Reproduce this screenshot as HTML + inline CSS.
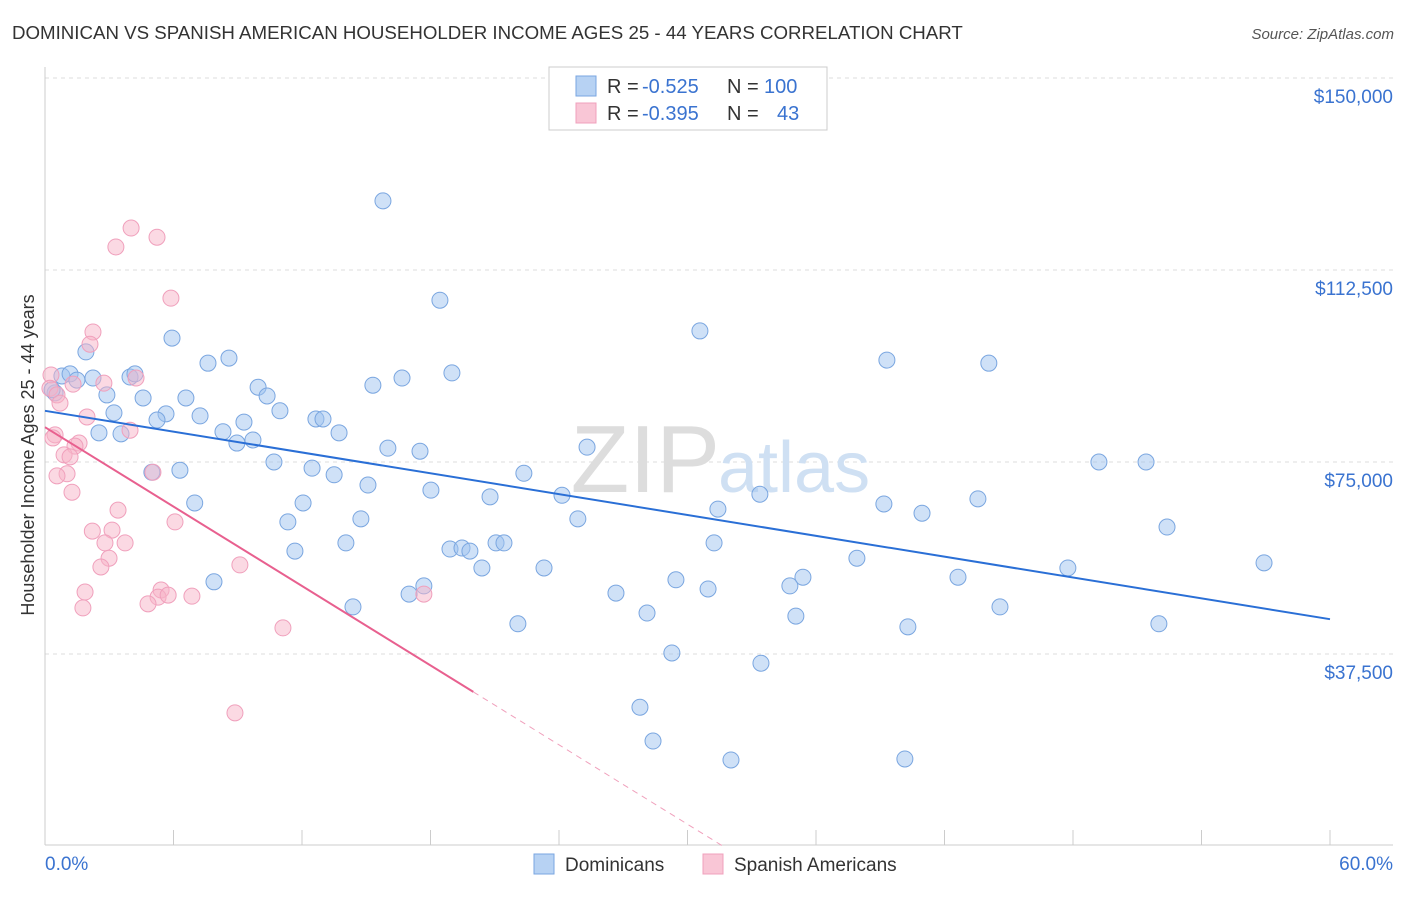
<!DOCTYPE html>
<html><head><meta charset="utf-8"><style>
body{margin:0;background:#fff;font-family:"Liberation Sans",sans-serif}
svg text{font-family:"Liberation Sans",sans-serif}
</style></head><body>
<svg id="c" width="1406" height="892" xmlns="http://www.w3.org/2000/svg">
<text x="12" y="39" font-size="18.7" fill="#333">DOMINICAN VS SPANISH AMERICAN HOUSEHOLDER INCOME AGES 25 - 44 YEARS CORRELATION CHART</text>
<text x="1394" y="39" font-size="15" fill="#555" font-style="italic" text-anchor="end">Source: ZipAtlas.com</text>
<g id="grid"></g>
<text x="720" y="492" font-size="96" fill="#ddd" text-anchor="end" font-family="Liberation Serif">ZIP</text>
<text x="718" y="492" font-size="72" fill="#cfe0f3">atlas</text>
<g id="pts"></g>
<g id="lines"></g>
<text x="34" y="455" font-size="18" fill="#333" text-anchor="middle" transform="rotate(-90 34 455)">Householder Income Ages 25 - 44 years</text>
<text x="45" y="870" font-size="19" fill="#3a73d0">0.0%</text>
<text x="1393" y="870" font-size="19" fill="#3a73d0" text-anchor="end">60.0%</text>
<g>
<rect x="549" y="67" width="278" height="63" fill="#fff" stroke="#ccc"/>
<rect x="576" y="76" width="20" height="20" fill="#b7d2f3" stroke="#7aa6e0"/>
<rect x="576" y="103" width="20" height="20" fill="#f9c6d6" stroke="#f0a0bc"/>
<text x="607" y="93" font-size="20" fill="#333">R =</text>
<text x="642" y="93" font-size="20" fill="#3a73d0">-0.525</text>
<text x="727" y="93" font-size="20" fill="#333">N =</text>
<text x="764" y="93" font-size="20" fill="#3a73d0">100</text>
<text x="607" y="120" font-size="20" fill="#333">R =</text>
<text x="642" y="120" font-size="20" fill="#3a73d0">-0.395</text>
<text x="727" y="120" font-size="20" fill="#333">N =</text>
<text x="777" y="120" font-size="20" fill="#3a73d0">43</text>
</g>
<g>
<rect x="534" y="854" width="20" height="20" fill="#b7d2f3" stroke="#7aa6e0"/>
<text x="565" y="871" font-size="19" fill="#333">Dominicans</text>
<rect x="703" y="854" width="20" height="20" fill="#f9c6d6" stroke="#f0a0bc"/>
<text x="734" y="871" font-size="19" fill="#333">Spanish Americans</text>
</g>
</svg>
<script>
const yTicks=[37500,75000,112500,150000];
const yTickLabels=["$37,500","$75,000","$112,500","$150,000"];
const xTicks=[0,6,12,18,24,30,36,42,48,54,60];
const blueX=[15.78,18.44,30.58,5.93,1.91,8.59,7.61,39.31,44.07,19.0,0.79,1.17,1.49,2.24,3.97,4.2,16.67,15.31,9.95,0.47,0.33,2.89,4.58,6.58,10.37,3.22,5.65,7.24,10.97,5.23,9.29,12.65,12.98,2.52,3.55,8.31,13.73,8.96,9.71,16.01,17.51,25.31,10.69,4.99,6.3,12.47,13.5,22.36,49.21,51.41,15.08,18.02,20.78,24.14,33.38,43.56,6.99,12.05,39.17,31.42,40.95,11.34,14.75,24.88,52.39,14.05,21.06,21.43,31.24,11.67,18.91,19.47,19.84,37.91,56.92,20.4,23.3,47.76,42.63,7.89,29.46,35.39,17.69,34.78,30.96,17.0,26.66,14.38,44.59,28.11,35.06,22.08,52.01,40.29,29.27,33.43,27.78,28.39,32.03,40.15];
const blueY=[126.0,106.6,100.6,99.2,96.5,95.3,94.3,94.9,94.3,92.4,91.8,92.2,91.0,91.4,91.6,92.2,91.4,90.0,89.6,88.5,89.1,88.1,87.5,87.5,87.9,84.6,84.4,84.0,85.0,83.2,82.8,83.4,83.4,80.7,80.5,80.9,80.7,78.7,79.3,77.7,77.1,77.9,75.0,73.0,73.4,73.8,72.5,72.8,75.0,75.0,70.5,69.5,68.2,68.5,68.7,67.8,67.0,67.0,66.8,65.8,65.0,63.3,63.9,63.9,62.3,59.2,59.2,59.2,59.2,57.6,58.0,58.2,57.6,56.2,55.3,54.3,54.3,54.3,52.5,51.6,52.0,52.5,50.8,50.8,50.2,49.2,49.4,46.7,46.7,45.5,44.9,43.4,43.4,42.8,37.7,35.7,27.1,20.5,16.8,17.0];
const pinkX=[4.02,5.23,3.31,5.88,2.24,2.1,0.28,4.25,2.75,1.31,0.23,0.56,0.7,1.96,3.97,0.47,0.37,1.59,1.4,0.89,1.17,5.04,1.03,0.56,1.26,3.41,6.07,2.21,3.13,2.8,3.74,2.99,2.61,9.1,5.42,1.87,5.28,5.75,6.86,17.69,4.81,1.77,11.11,8.87];
const pinkY=[120.7,118.9,117.0,107.0,100.4,98.0,92.0,91.4,90.4,90.2,89.4,88.1,86.5,83.8,81.2,80.3,79.7,78.7,78.1,76.4,76.0,73.0,72.7,72.3,69.1,65.6,63.3,61.5,61.7,59.2,59.2,56.2,54.5,54.9,50.0,49.6,48.6,49.0,48.8,49.2,47.3,46.5,42.6,26.0];
const blueTrend=[85.0,44.3];
const pinkTrend=[81.8,30.1,20.0];
const X=v=>45+v/60*1285;
const Y=v=>846-v/37.5*192;
const NS="http://www.w3.org/2000/svg";
function mk(t,a,p){const e=document.createElementNS(NS,t);for(const k in a)e.setAttribute(k,a[k]);p.appendChild(e);return e;}
const g=document.getElementById('grid');
yTicks.forEach((t,i)=>{
 const y=Y(t/1000);
 const l=mk('line',{x1:45,x2:1393,y1:y,y2:y,stroke:'#ddd','stroke-dasharray':'4,4'},g);
 
 
 const tx=mk('text',{x:1393,y:y+25,'font-size':19,fill:'#3a73d0','text-anchor':'end'},g);
 tx.textContent=yTickLabels[i];
 
 
});
const ax=mk('line',{x1:45,x2:1393,y1:845,y2:845,stroke:'#ccc'},g);


const ay=mk('line',{x1:45,x2:45,y1:67,y2:845,stroke:'#ccc'},g);


xTicks.forEach(t=>{
 const tk=mk('line',{x1:X(t),x2:X(t),y1:830,y2:845,stroke:'#ccc'},g);
 
 
});
const p=document.getElementById('pts');
blueX.forEach((x,i)=>{
 const c=mk('circle',{cx:X(x),cy:Y(blueY[i]),r:8,fill:'rgba(160,196,240,0.5)',stroke:'#7aa6e0','stroke-width':1},p);
 
 
});
pinkX.forEach((x,i)=>{
 const c=mk('circle',{cx:X(x),cy:Y(pinkY[i]),r:8,fill:'rgba(248,180,200,0.5)',stroke:'#f0a0bc','stroke-width':1},p);
 
 
});
const L=document.getElementById('lines');
const bl=mk('line',{x1:X(0),y1:Y(blueTrend[0]),x2:X(60),y2:Y(blueTrend[1]),stroke:'#2a6fd6','stroke-width':2},L);


const slope=(pinkTrend[1]-pinkTrend[0])/pinkTrend[2];
const zeroX=-pinkTrend[0]/slope;
const pl=mk('line',{x1:X(0),y1:Y(pinkTrend[0]),x2:X(pinkTrend[2]),y2:Y(pinkTrend[1]),stroke:'#e8608f','stroke-width':2},L);


const pd=mk('line',{x1:X(pinkTrend[2]),y1:Y(pinkTrend[1]),x2:X(zeroX),y2:Y(0),stroke:'#f0a0bc','stroke-width':1,'stroke-dasharray':'6,5'},L);


</script>
</body></html>
